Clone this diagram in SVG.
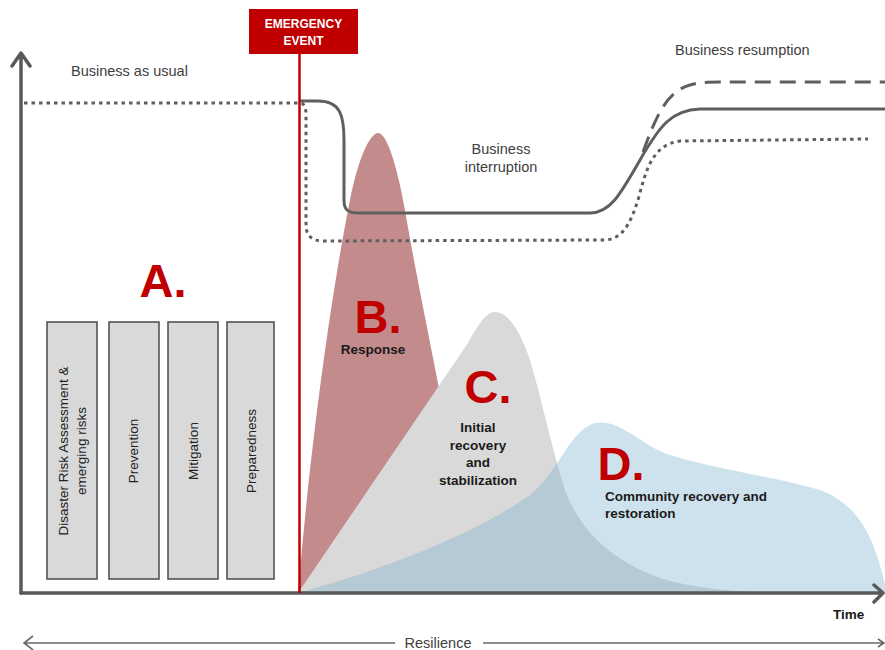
<svg xmlns="http://www.w3.org/2000/svg" width="885" height="650" viewBox="0 0 885 650">
<style>
.lbl{font-family:"Liberation Sans",Arial,sans-serif;fill:#404040;font-size:14.5px}
.bl{font-family:"Liberation Sans",Arial,sans-serif;fill:#1a1a1a;font-size:13.5px;font-weight:bold}
.box{fill:#d9d9d9;stroke:#4a4a4a;stroke-width:1.5}
.bt{font-family:"Liberation Sans",Arial,sans-serif;fill:#222;font-size:13.5px;text-anchor:middle}
.big{font-family:"Liberation Sans",Arial,sans-serif;fill:#c00000;font-size:47px;font-weight:bold;text-anchor:middle}
.ax{fill:none;stroke:#595959;stroke-width:3.5;stroke-linecap:round;stroke-linejoin:round}
.curve{fill:none;stroke:#5f5f5f;stroke-width:3}
</style>
<rect width="885" height="650" fill="#ffffff"/>

<g id="phase-shapes">
  <path id="B-shape" d="M298 593 C310 450 330 300 350 200 C360 150 372 133 378 133 C386 133 396 160 405 210 C415 270 430 340 445 420 L470 593 Z" fill="#c48b8d"/>
  <path id="C-shape" d="M298 593 L468 343 C478 325 486 312 495 312 C508 312 520 330 530 360 C542 400 552 450 565 490 C580 530 610 560 660 578 C700 590 740 592 790 593 Z" fill="#d9d9d9"/>
  <path id="D-shape" d="M298 593 C400 565 480 530 530 495 C560 470 570 430 595 423 C620 418 640 445 670 455 C710 468 780 478 820 490 C860 505 875 540 885 585 L885 593 Z" fill="#7fb3cf" fill-opacity="0.38"/>
</g>

<g id="connectors">
  <path id="dotted-curve" class="curve" stroke-dasharray="3.5 4" d="M24 103 L300 103 C304 103 306 107 306 115 L306 225 C306 236 312 241 324 241 L605 240 C622 239 630 225 638 200 C646 170 652 145 680 141 L868 139"/>
  <path id="solid-curve" class="curve" d="M300 101 L318 101 C340 101 344 115 344 140 L344 200 C344 210 348 213 358 213 L590 213 C610 213 620 195 640 160 C660 125 672 110 700 109 L885 109"/>
  <path id="dashed-curve" class="curve" stroke-dasharray="16 9" d="M643 152 C655 120 665 92 690 85 C700 82 710 82 720 82 L885 82"/>
  <path id="y-axis" class="ax" d="M21 593 L21 54 M12 66 L21 53 L30 66"/>
  <path id="x-axis" class="ax" d="M21 593 L882 593 M874 585 L883 593 L874 602"/>
  <path id="resilience-line" fill="none" stroke="#6a6a6a" stroke-width="1.6" d="M24 643 L395 643 M483 643 L883 643 M33 636 L24 643 L33 650 M878 639 L884 643 L878 647"/>
  <line id="event-line" x1="299.5" y1="54" x2="299.5" y2="593" stroke="#c00000" stroke-width="2.5"/>
</g>

<g id="emergency-event">
  <rect x="249" y="9" width="109" height="45" fill="#c00000"/>
  <text x="303.5" y="28" font-family="Liberation Sans,Arial,sans-serif" font-size="12" font-weight="bold" fill="#ffffff" text-anchor="middle">EMERGENCY</text>
  <text x="303.5" y="45" font-family="Liberation Sans,Arial,sans-serif" font-size="12" font-weight="bold" fill="#ffffff" text-anchor="middle">EVENT</text>
</g>

<g id="labels">
  <text class="lbl" x="71" y="76">Business as usual</text>
  <text class="lbl" x="675" y="55">Business resumption</text>
  <text class="lbl" x="501" y="154" text-anchor="middle">Business</text>
  <text class="lbl" x="501" y="172" text-anchor="middle">interruption</text>
  <text class="lbl" x="438" y="648" text-anchor="middle">Resilience</text>
  <text class="bl" x="833" y="619" font-size="14">Time</text>
</g>

<g id="A">
  <text class="big" x="163" y="297">A.</text>
  <g id="box-risk">
    <rect class="box" x="47" y="322" width="50" height="257"/>
    <text class="bt" transform="translate(67.5 451) rotate(-90)">Disaster Risk Assessment &amp;</text>
    <text class="bt" transform="translate(86 451) rotate(-90)">emerging risks</text>
  </g>
  <g id="box-prevention">
    <rect class="box" x="109" y="322" width="50" height="257"/>
    <text class="bt" transform="translate(138 451) rotate(-90)">Prevention</text>
  </g>
  <g id="box-mitigation">
    <rect class="box" x="168" y="322" width="50" height="257"/>
    <text class="bt" transform="translate(197.5 451) rotate(-90)">Mitigation</text>
  </g>
  <g id="box-preparedness">
    <rect class="box" x="227" y="322" width="47" height="257"/>
    <text class="bt" transform="translate(255.5 451) rotate(-90)">Preparedness</text>
  </g>
</g>

<g id="B">
  <text class="big" x="378" y="333">B.</text>
  <text class="bl" x="373" y="354" text-anchor="middle" font-size="13">Response</text>
</g>

<g id="C">
  <text class="big" x="488" y="403">C.</text>
  <text class="bl" x="478" y="432" text-anchor="middle" font-size="13">Initial</text>
  <text class="bl" x="478" y="450" text-anchor="middle" font-size="13">recovery</text>
  <text class="bl" x="478" y="467" text-anchor="middle" font-size="13">and</text>
  <text class="bl" x="478" y="485" text-anchor="middle" font-size="13">stabilization</text>
</g>

<g id="D">
  <text class="big" x="621" y="480">D.</text>
  <text class="bl" x="605" y="501">Community recovery and</text>
  <text class="bl" x="605" y="518">restoration</text>
</g>
</svg>
